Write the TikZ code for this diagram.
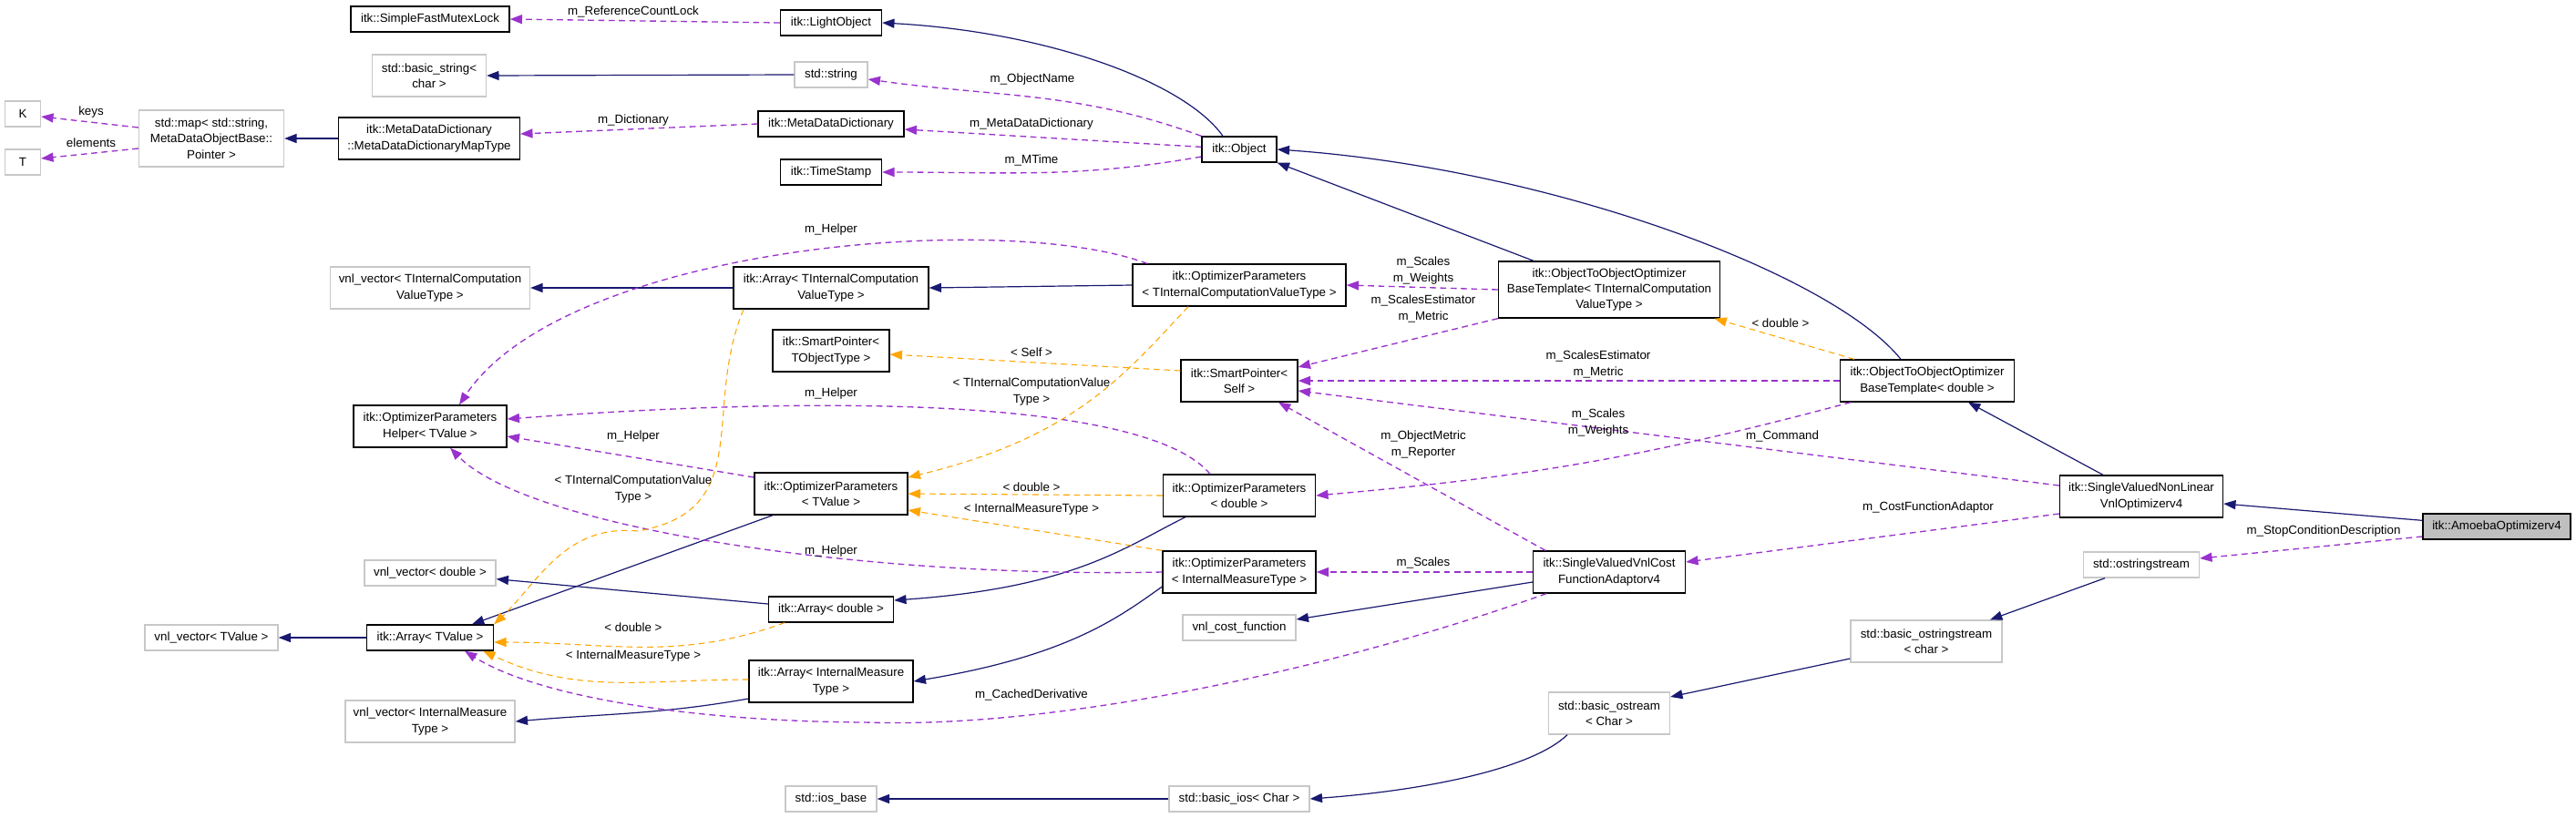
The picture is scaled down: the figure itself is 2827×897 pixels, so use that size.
\documentclass[tikz,border=0pt]{standalone}
\usepackage{fontspec}
\setmainfont{Liberation Sans}
\usetikzlibrary{arrows.meta}
\definecolor{inhblue}{RGB}{25,25,112}
\definecolor{usepurple}{RGB}{154,50,205}
\definecolor{tmplorange}{RGB}{255,165,0}
\definecolor{boxgray}{RGB}{191,191,191}
\definecolor{extgray}{RGB}{200,200,200}

\begin{document}
\begin{tikzpicture}[x=0.75pt, y=-0.75pt,
  every node/.style={font=\fontsize{10}{13}\selectfont},
  docbox/.style={draw=black, line width=1pt, align=center, inner sep=2pt},
  extbox/.style={draw=extgray, line width=1pt, align=center, inner sep=2pt},
  h1/.style={minimum height=21pt},
  h2/.style={minimum height=34.5pt},
  h3/.style={minimum height=46.5pt},
  inhedge/.style={draw=inhblue, line width=0.9pt, -{Triangle[length=10pt,width=7.5pt]}},
  useedge/.style={draw=usepurple, line width=1pt, dash pattern=on 5pt off 3.5pt,
                  -{Triangle[length=10pt,width=7.5pt]}},
  tmpledge/.style={draw=tmplorange, line width=0.8pt, dash pattern=on 5pt off 3.5pt,
                   -{Triangle[length=10pt,width=7.5pt]}},
  lbl/.style={align=center, inner sep=0pt}]

\fill[white] (0,0) rectangle (2827,897);

% --- column 1: K, T, std::map ----------------------------------------------
\node[extbox, h1, minimum width=29.25pt] (nodeK) at (25,125) {K};
\node[extbox, h1, minimum width=29.25pt] (nodeT) at (25,178) {T};
\node[extbox, h3, minimum width=119.25pt] (stdmap) at (232,152)
  {std::map< std::string,\\ MetaDataObjectBase::\\ Pointer >};
\node[extbox, h1, minimum width=109.5pt] (vnlval) at (232,700) {vnl\_vector< TValue >};

% --- column 2 ------------------------------------------------------------------
\node[docbox, h1, minimum width=130.5pt] (mutexlock) at (472,21) {itk::SimpleFastMutexLock};
\node[extbox, h2, minimum width=93.75pt] (basicstr) at (471,83) {std::basic\_string<\\ char >};
\node[docbox, h2, minimum width=149.25pt] (mddmap) at (471,152)
  {itk::MetaDataDictionary\\ ::MetaDataDictionaryMapType};
\node[extbox, h2, minimum width=164.25pt] (vnltic) at (472,316)
  {vnl\_vector< TInternalComputation\\ ValueType >};
\node[docbox, h2, minimum width=126pt] (helper) at (472,468)
  {itk::OptimizerParameters\\ Helper< TValue >};
\node[extbox, h1, minimum width=108pt] (vnldbl) at (472,629) {vnl\_vector< double >};
\node[docbox, h1, minimum width=104.25pt] (arrval) at (472,700) {itk::Array< TValue >};
\node[extbox, h2, minimum width=139.5pt] (vnlimt) at (472,792)
  {vnl\_vector< InternalMeasure\\ Type >};

% --- column 3 ------------------------------------------------------------------
\node[docbox, h1, minimum width=83.25pt] (lightobj) at (912,25) {itk::LightObject};
\node[extbox, h1, minimum width=60pt] (stdstring) at (912,82) {std::string};
\node[docbox, h1, minimum width=120pt] (mdd) at (912,136) {itk::MetaDataDictionary};
\node[docbox, h1, minimum width=83.25pt] (timestamp) at (912,189) {itk::TimeStamp};
\node[docbox, h2, minimum width=160.5pt] (arraytic) at (912,316)
  {itk::Array< TInternalComputation\\ ValueType >};
\node[docbox, h2, minimum width=96pt] (sptobj) at (912,385) {itk::SmartPointer<\\ TObjectType >};
\node[docbox, h2, minimum width=126pt] (optval) at (912,542)
  {itk::OptimizerParameters\\ < TValue >};
\node[docbox, h1, minimum width=102.75pt] (arrdbl) at (912,669) {itk::Array< double >};
\node[docbox, h2, minimum width=135pt] (arrimt) at (912,748)
  {itk::Array< InternalMeasure\\ Type >};
\node[extbox, h1, minimum width=75pt] (iosbase) at (912,877) {std::ios\_base};

% --- column 4 ------------------------------------------------------------------
\node[docbox, h1, minimum width=61.5pt] (object) at (1360,164) {itk::Object};
\node[docbox, h2, minimum width=175.5pt] (optic) at (1360,313)
  {itk::OptimizerParameters\\ < TInternalComputationValueType >};
\node[docbox, h2, minimum width=96pt] (spself) at (1360,418) {itk::SmartPointer<\\ Self >};
\node[docbox, h2, minimum width=125.25pt] (optdbl) at (1360,544)
  {itk::OptimizerParameters\\ < double >};
\node[docbox, h2, minimum width=126pt] (optimt) at (1360,628)
  {itk::OptimizerParameters\\ < InternalMeasureType >};
\node[extbox, h1, minimum width=93pt] (vnlcost) at (1360,689) {vnl\_cost\_function};
\node[extbox, h1, minimum width=115.5pt] (basicios) at (1360,877) {std::basic\_ios< Char >};

% --- column 5 ------------------------------------------------------------------
\node[docbox, h3, minimum width=182.25pt] (otootic) at (1766,318)
  {itk::ObjectToObjectOptimizer\\ BaseTemplate< TInternalComputation\\ ValueType >};
\node[docbox, h2, minimum width=125.25pt] (cfa) at (1766,628)
  {itk::SingleValuedVnlCost\\ FunctionAdaptorv4};
\node[extbox, h2, minimum width=99.75pt] (basicostream) at (1766,783)
  {std::basic\_ostream\\ < Char >};

% --- columns 6 to 8 -------------------------------------------------------------
\node[docbox, h2, minimum width=143.25pt] (otoodbl) at (2115,418)
  {itk::ObjectToObjectOptimizer\\ BaseTemplate< double >};
\node[extbox, h2, minimum width=124.5pt] (basicostrstream) at (2114,704)
  {std::basic\_ostringstream\\ < char >};
\node[docbox, h2, minimum width=134.25pt] (svnl) at (2350,545)
  {itk::SingleValuedNonLinear\\ VnlOptimizerv4};
\node[extbox, h1, minimum width=95.25pt] (ostrstream) at (2350,620) {std::ostringstream};
\node[docbox, h1, fill=boxgray, minimum width=121.5pt] (amoeba) at (2740,578)
  {itk::AmoebaOptimizerv4};

% --- inheritance ------------------------------------------------------------------
\draw[inhedge] ([xshift=-13.5pt]object.north) .. controls (1300,90) and (1150,35) .. (lightobj.east);
\draw[inhedge] (stdstring.west) -- (basicstr.east);
\draw[inhedge] (mddmap.west) -- (stdmap.east);
\draw[inhedge] (arraytic.west) -- (vnltic.east);
\draw[inhedge] (optic.west) -- (arraytic.east);
\draw[inhedge] ([xshift=-62.25pt]otootic.north) -- (object.south east);
\draw[inhedge] ([xshift=-21.75pt]otoodbl.north) .. controls (2010,300) and (1700,185) .. (object.east);
\draw[inhedge] ([xshift=-31.5pt]svnl.north) -- ([xshift=33.75pt]otoodbl.south);
\draw[inhedge] ([yshift=5pt]amoeba.west) -- ([yshift=-6pt]svnl.east);
\draw[inhedge] (arrval.west) -- (vnlval.east);
\draw[inhedge] ([xshift=-48pt]optval.south) -- ([xshift=34.5pt]arrval.north);
\draw[inhedge] ([yshift=4.5pt]arrdbl.west) -- ([yshift=-5pt]vnldbl.east);
\draw[inhedge] ([xshift=-44.25pt]optdbl.south) .. controls (1235,600) and (1180,645) .. ([yshift=7.5pt]arrdbl.east);
\draw[inhedge] ([yshift=-14.25pt]arrimt.west) to[out=190, in=5] (vnlimt.east);
\draw[inhedge] ([yshift=-12pt]optimt.west) .. controls (1225,680) and (1170,720) .. (arrimt.east);
\draw[inhedge] ([yshift=-8.25pt]cfa.west) -- ([yshift=6.75pt]vnlcost.east);
\draw[inhedge] ([xshift=-30pt]ostrstream.south) -- ([xshift=52.5pt]basicostrstream.north);
\draw[inhedge] ([yshift=-14.25pt]basicostrstream.west) -- ([yshift=13.5pt]basicostream.east);
\draw[inhedge] ([xshift=-34.5pt]basicostream.south) .. controls (1680,845) and (1560,868) .. (basicios.east);
\draw[inhedge] (basicios.west) -- (iosbase.east);

% --- members ----------------------------------------------------------------------
\draw[useedge] (lightobj.west) -- (mutexlock.east);
\draw[useedge] (object.north west) to[out=160, in=-8] ([yshift=-3.75pt]stdstring.east);
\draw[useedge] ([yshift=2pt]object.west) -- ([yshift=-4.5pt]mdd.east);
\draw[useedge] ([yshift=-6pt]object.west) to[out=190, in=0] (timestamp.east);
\draw[useedge] (mdd.west) -- ([yshift=3.75pt]mddmap.east);
\draw[useedge] ([yshift=9pt]stdmap.west) -- ([yshift=-2.25pt]nodeK.east);
\draw[useedge] ([yshift=-8.25pt]stdmap.west) -- ([yshift=3pt]nodeT.east);
\draw[useedge] ([xshift=-75.75pt]optic.north) .. controls (1100,230) and (620,270) .. ([xshift=24pt]helper.north);
\draw[useedge] ([xshift=-24pt]optdbl.north) .. controls (1265,445) and (960,430) .. ([yshift=6pt]helper.east);
\draw[useedge] ([yshift=13.5pt]optval.west) -- ([yshift=-8.25pt]helper.east);
\draw[useedge] (optimt.west) .. controls (950,635) and (580,580) .. ([xshift=16.5pt]helper.south);
\draw[useedge] (otootic.west) -- (optic.east);
\draw[useedge] (otootic.south west) -- ([yshift=11.25pt]spself.east);
\draw[useedge] (otoodbl.west) -- (spself.east);
\draw[useedge] ([yshift=9pt]svnl.west) -- ([yshift=-8.25pt]spself.east);
\draw[useedge] ([xshift=-63pt]otoodbl.south) to[out=195, in=5] (optdbl.east);
\draw[useedge] ([xshift=-52.5pt]cfa.north) -- ([xshift=32.25pt]spself.south);
\draw[useedge] (cfa.west) -- (optimt.east);
\draw[useedge] ([yshift=-14.25pt]svnl.west) -- ([yshift=8.25pt]cfa.east);
\draw[useedge] ([xshift=-51.75pt]cfa.south) .. controls (1450,740) and (1150,800) .. (950,793)
  .. controls (760,792) and (590,765) .. ([xshift=28.5pt]arrval.south);
\draw[useedge] ([yshift=-8.25pt]amoeba.west) -- ([yshift=5.25pt]ostrstream.east);

% --- template instances ------------------------------------------------------------
\draw[tmpledge] ([xshift=-42pt]optic.south) .. controls (1235,410) and (1180,480) .. ([yshift=13.5pt]optval.east);
\draw[tmpledge] ([xshift=-72pt]arraytic.south) .. controls (770,450) and (830,560) .. (700,583)
  .. controls (620,575) and (590,640) .. (arrval.north east);
\draw[tmpledge] ([yshift=8.25pt]spself.west) -- ([yshift=-3pt]sptobj.east);
\draw[tmpledge] (optdbl.west) -- (optval.east);
\draw[tmpledge] (optimt.north west) -- ([yshift=-13.5pt]optval.east);
\draw[tmpledge] ([xshift=-38.25pt]arrdbl.south) to[out=200, in=0] ([yshift=-3.75pt]arrval.east);
\draw[tmpledge] ([yshift=1.5pt]arrimt.west) to[out=180, in=-25] ([xshift=-9pt]arrval.south east);
\draw[tmpledge] ([xshift=-60pt]otoodbl.north) -- ([xshift=-5pt]otootic.south east);

% --- edge labels --------------------------------------------------------------------
\node[lbl] (l-reflock) at (695,13) {m\_ReferenceCountLock};
\node[lbl] (l-objname) at (1133,87) {m\_ObjectName};
\node[lbl] (l-mdd) at (1132,136) {m\_MetaDataDictionary};
\node[lbl] (l-mtime) at (1132,176) {m\_MTime};
\node[lbl] (l-dict) at (695,132) {m\_Dictionary};
\node[lbl] (l-keys) at (100,123) {keys};
\node[lbl] (l-elems) at (100,157) {elements};
\node[lbl] (l-helper1) at (912,252) {m\_Helper};
\node[lbl] (l-helper2) at (912,432) {m\_Helper};
\node[lbl] (l-helper3) at (695,479) {m\_Helper};
\node[lbl] (l-helper4) at (912,605) {m\_Helper};
\node[lbl] (l-scales1) at (1562,297) {m\_Scales\\m\_Weights};
\node[lbl] (l-estim1) at (1562,339) {m\_ScalesEstimator\\m\_Metric};
\node[lbl] (l-estim2) at (1754,400) {m\_ScalesEstimator\\m\_Metric};
\node[lbl] (l-scales2) at (1754,464) {m\_Scales\\m\_Weights};
\node[lbl] (l-command) at (1956,479) {m\_Command};
\node[lbl] (l-metric) at (1562,488) {m\_ObjectMetric\\m\_Reporter};
\node[lbl] (l-scales3) at (1562,618) {m\_Scales};
\node[lbl] (l-adaptor) at (2116,557) {m\_CostFunctionAdaptor};
\node[lbl] (l-cached) at (1132,763) {m\_CachedDerivative};
\node[lbl] (l-stopcond) at (2550,583) {m\_StopConditionDescription};
\node[lbl] (t-ticopt) at (1132,430) {< TInternalComputationValue\\Type >};
\node[lbl] (t-ticarr) at (695,537) {< TInternalComputationValue\\Type >};
\node[lbl] (t-self) at (1132,387) {< Self >};
\node[lbl] (t-optdbl) at (1132,535) {< double >};
\node[lbl] (t-optimt) at (1132,559) {< InternalMeasureType >};
\node[lbl] (t-arrdbl) at (695,689) {< double >};
\node[lbl] (t-arrimt) at (695,720) {< InternalMeasureType >};
\node[lbl] (t-otoodbl) at (1954,355) {< double >};

\end{tikzpicture}
\end{document}
